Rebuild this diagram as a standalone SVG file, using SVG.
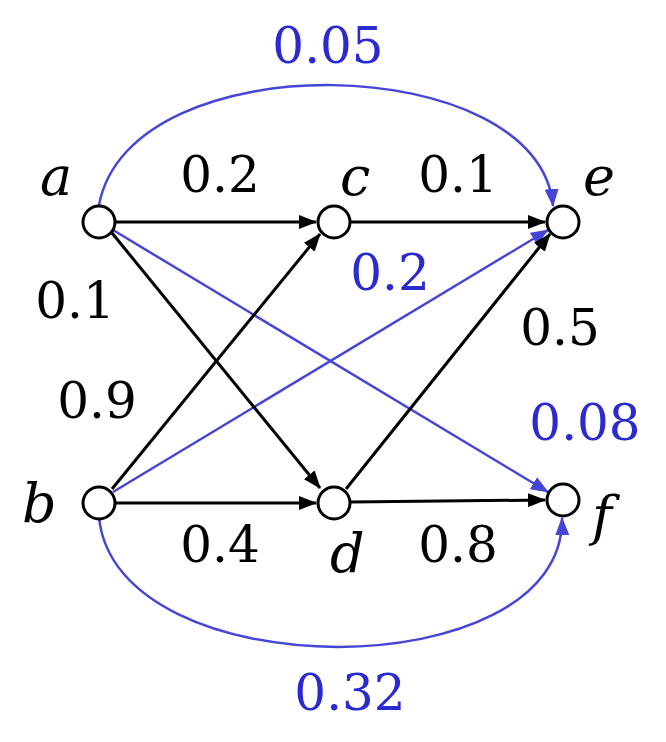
<svg xmlns="http://www.w3.org/2000/svg" width="666" height="742" viewBox="0 0 666 742">
<style>
.n{fill:#fff;stroke:#000;stroke-width:3}
.k{stroke:#000;stroke-width:3;fill:none}
.bl{stroke:#4646d6;stroke-width:2.5;fill:none}
.v{font-family:"DejaVu Serif","Liberation Serif",serif;font-style:italic;font-size:54px;fill:#000}
.t{font-family:"DejaVu Serif","Liberation Serif",serif;font-size:50px;fill:#000;text-anchor:middle}
.tb{font-family:"DejaVu Serif","Liberation Serif",serif;font-size:50px;fill:#2a2ad0;text-anchor:middle}
</style>
<defs>
<marker id="ak" markerWidth="18" markerHeight="14" refX="17" refY="7" orient="auto" markerUnits="userSpaceOnUse" viewBox="0 0 18 14"><path d="M0,0L18,7L0,14z" fill="#000"/></marker>
<marker id="ab" markerWidth="18" markerHeight="14" refX="17" refY="7" orient="auto" markerUnits="userSpaceOnUse" viewBox="0 0 18 14"><path d="M0,0L18,7L0,14z" fill="#4646d6"/></marker>
</defs>
<g id="connectors">
<path class="bl" d="M99,205 C130,40 540,50 553,206" marker-end="url(#ab)"/>
<path class="bl" d="M99,517 C115,690 565,690 562,518" marker-end="url(#ab)"/>
<line class="bl" x1="113" y1="230" x2="548" y2="492" marker-end="url(#ab)"/>
<line class="bl" x1="113" y1="492" x2="548" y2="230" marker-end="url(#ab)"/>
<line class="k" x1="115" y1="222" x2="316" y2="222" marker-end="url(#ak)"/>
<line class="k" x1="350" y1="222" x2="545" y2="222" marker-end="url(#ak)"/>
<line class="k" x1="112" y1="233" x2="320" y2="488" marker-end="url(#ak)"/>
<line class="k" x1="112" y1="489" x2="320" y2="234" marker-end="url(#ak)"/>
<line class="k" x1="115" y1="503" x2="316" y2="503" marker-end="url(#ak)"/>
<line class="k" x1="346" y1="489" x2="550" y2="234" marker-end="url(#ak)"/>
<line class="k" x1="350" y1="502" x2="545" y2="500" marker-end="url(#ak)"/>
</g>
<g id="a"><circle class="n" cx="99" cy="222" r="16"/><text class="v" x="40" y="195">a</text></g>
<g id="c"><circle class="n" cx="334" cy="222" r="16"/><text class="v" x="340" y="195">c</text></g>
<g id="e"><circle class="n" cx="563" cy="222" r="16"/><text class="v" x="583" y="195">e</text></g>
<g id="b"><circle class="n" cx="99" cy="503" r="16"/><text class="v" x="22" y="522">b</text></g>
<g id="d"><circle class="n" cx="334" cy="503" r="16"/><text class="v" x="330" y="572">d</text></g>
<g id="f"><circle class="n" cx="563" cy="500" r="16"/><text class="v" x="592" y="535">f</text></g>
<g id="labels">
<text class="tb" x="328" y="63">0.05</text>
<text class="t" x="220" y="192">0.2</text>
<text class="t" x="458" y="192">0.1</text>
<text class="tb" x="390" y="290">0.2</text>
<text class="t" x="75" y="318">0.1</text>
<text class="t" x="97" y="418">0.9</text>
<text class="t" x="560" y="345">0.5</text>
<text class="tb" x="585" y="440">0.08</text>
<text class="t" x="220" y="562">0.4</text>
<text class="t" x="458" y="562">0.8</text>
<text class="tb" x="350" y="710">0.32</text>
</g>
</svg>
